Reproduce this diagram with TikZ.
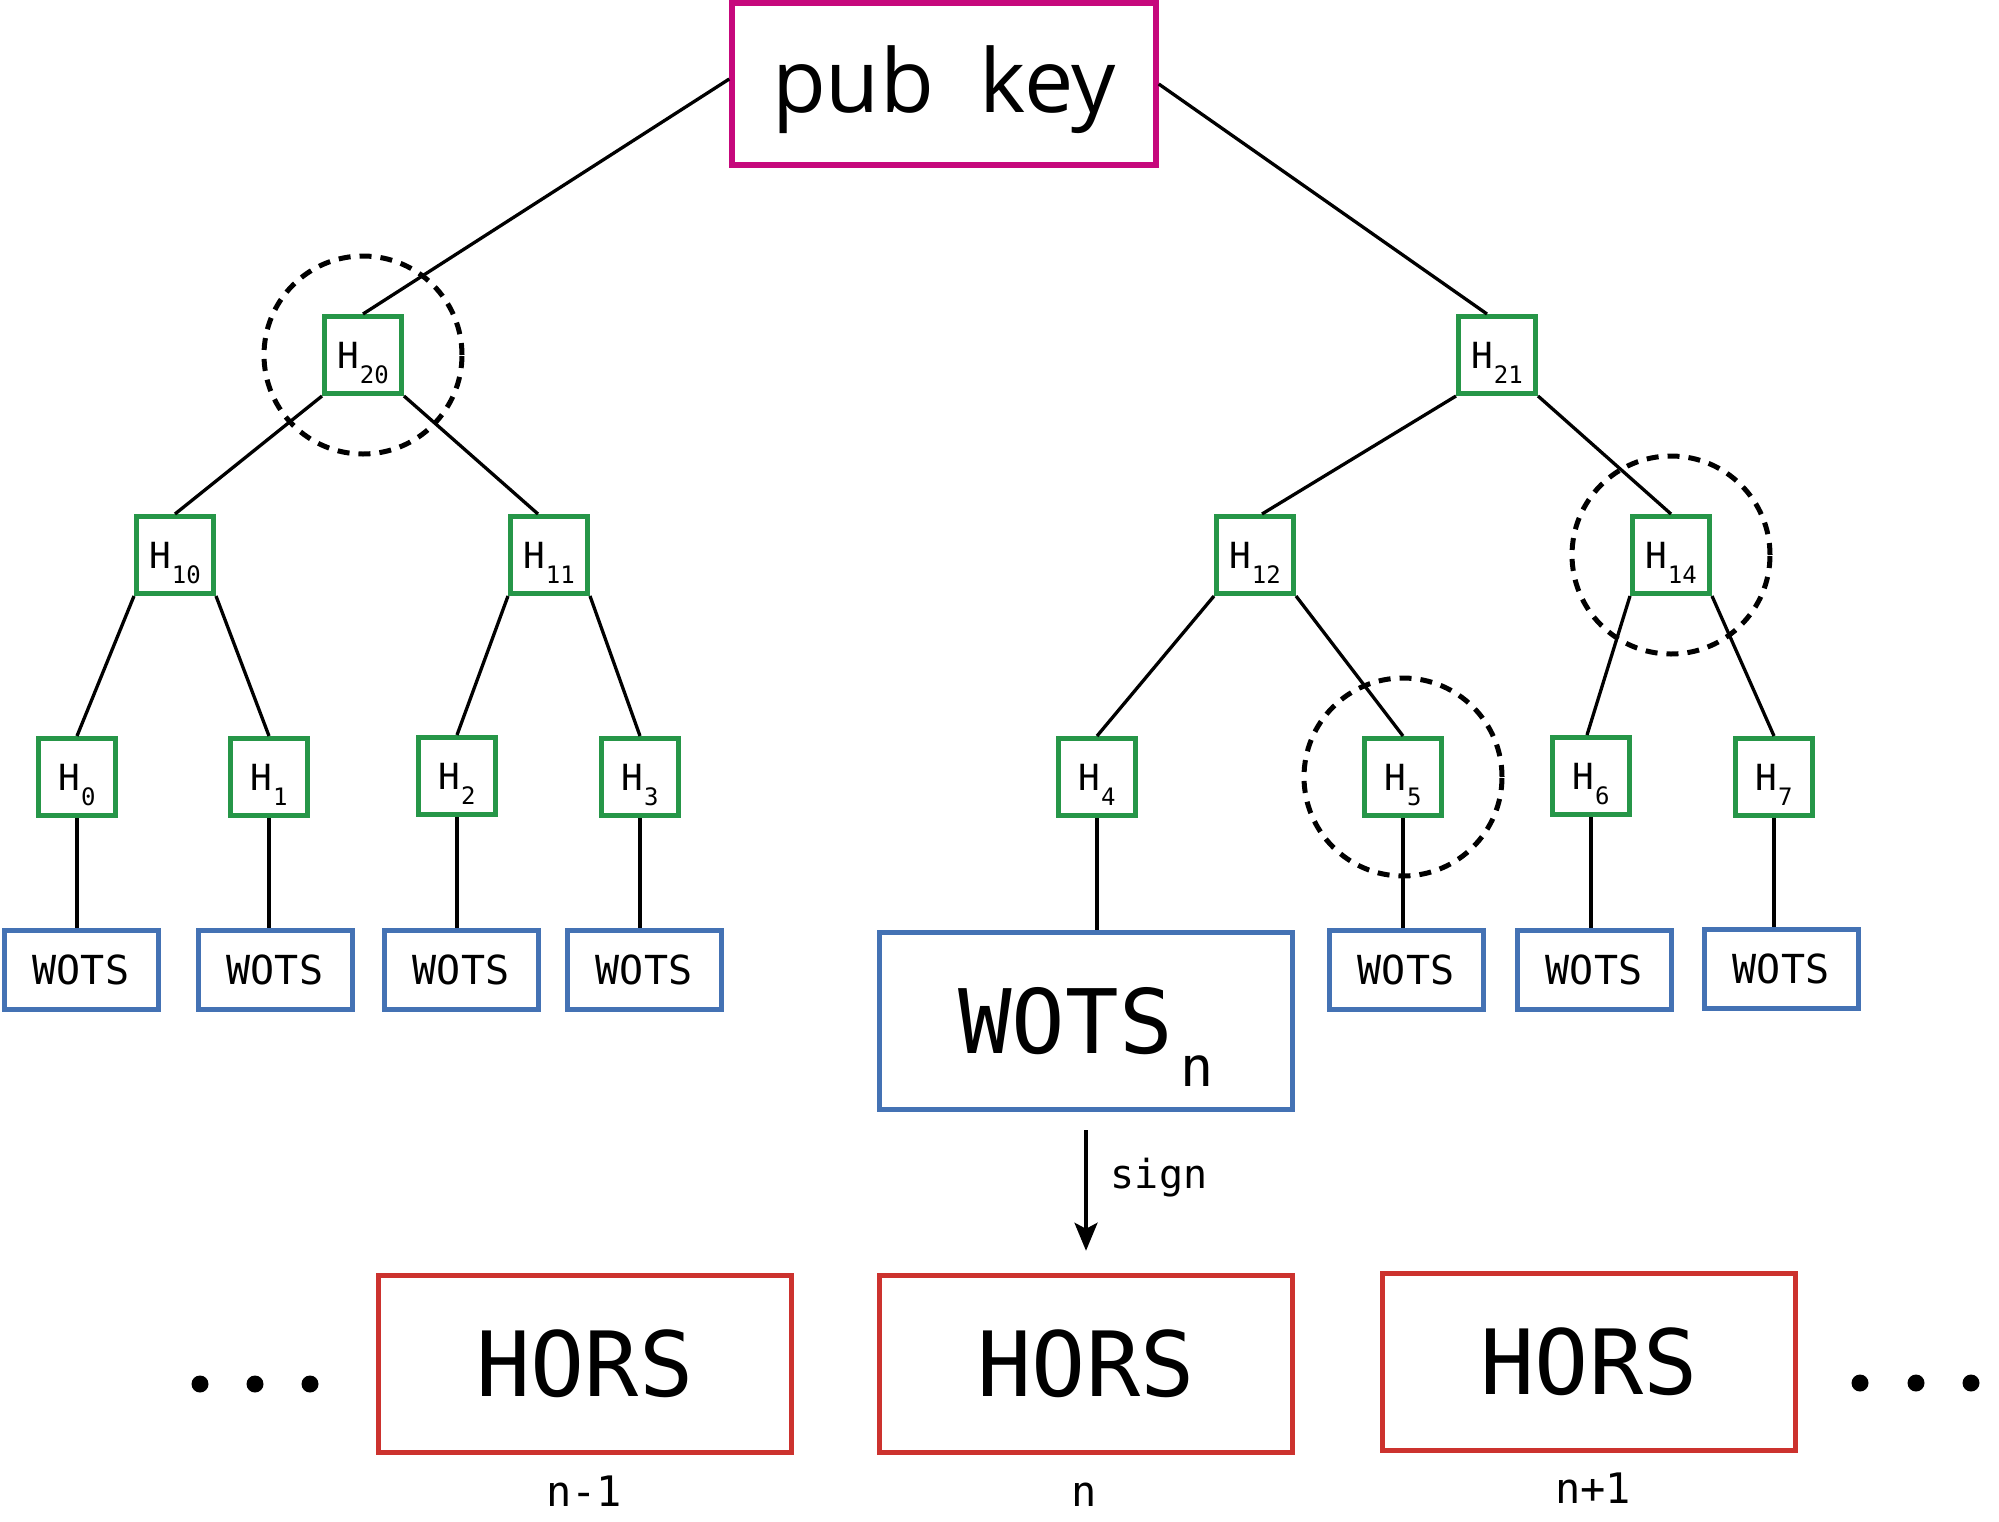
\documentclass[tikz,border=0pt]{standalone}
\usepackage{fontspec}
\setmainfont{Open Sans}
\newfontfamily\monofnt{DejaVu Sans Mono}
\usetikzlibrary{arrows.meta}
\definecolor{hgreen}{RGB}{38,150,72}
\definecolor{wblue}{RGB}{68,114,180}
\definecolor{hred}{RGB}{204,50,46}
\definecolor{pkpink}{RGB}{198,8,124}
\newcommand{\Hsub}[1]{H\kern1pt\smash{\raisebox{-15pt}{\fontsize{24}{24}\selectfont #1}}}
\begin{document}
\begin{tikzpicture}[x=1pt,y=-1pt,
  hnode/.style={draw=hgreen,line width=5pt,minimum size=77pt,inner sep=0pt,fill=white,font=\monofnt\fontsize{36}{40}\selectfont},
  wsmall/.style={draw=wblue,line width=5pt,minimum width=154pt,minimum height=79pt,inner sep=0pt,font=\monofnt\fontsize{40}{44}\selectfont},
  wbig/.style={draw=wblue,line width=5pt,minimum width=413pt,minimum height=177pt,inner sep=0pt,font=\monofnt\fontsize{89}{96}\selectfont},
  horsbox/.style={draw=hred,line width=5.5pt,minimum width=413pt,minimum height=177pt,inner sep=0pt,font=\monofnt\fontsize{90}{96}\selectfont},
  lbl/.style={font=\monofnt\fontsize{42}{46}\selectfont,anchor=base,inner sep=0pt},
  tline/.style={line width=3.3pt},
  dashring/.style={draw,line width=5pt,dash pattern=on 12pt off 9pt,circle,minimum size=198pt,inner sep=0pt},
  dotmark/.style={fill,circle,minimum size=17pt,inner sep=0pt}
]
\useasboundingbox (0,0) rectangle (1999,1521);

% root
\node[draw=pkpink,line width=5.5pt,minimum width=424pt,minimum height=162pt,inner sep=0pt,
      font=\fontsize{88}{96}\selectfont,text height=66pt,text depth=10pt] (pk) at (944,84) {pub\ \ key};

% hash nodes
\node[hnode] (h20) at (363,355) {\Hsub{20}};
\node[hnode] (h21) at (1497,355) {\Hsub{21}};
\node[hnode] (h10) at (175,555) {\Hsub{10}};
\node[hnode] (h11) at (549,555) {\Hsub{11}};
\node[hnode] (h12) at (1255,555) {\Hsub{12}};
\node[hnode] (h14) at (1671,555) {\Hsub{14}};
\node[hnode] (h0) at (77,777) {\Hsub{0}};
\node[hnode] (h1) at (269,777) {\Hsub{1}};
\node[hnode] (h2) at (457,776) {\Hsub{2}};
\node[hnode] (h3) at (640,777) {\Hsub{3}};
\node[hnode] (h4) at (1097,777) {\Hsub{4}};
\node[hnode] (h5) at (1403,777) {\Hsub{5}};
\node[hnode] (h6) at (1591,776) {\Hsub{6}};
\node[hnode] (h7) at (1774,777) {\Hsub{7}};

% WOTS
\node[wsmall] (w0) at (81,970) {WOTS};
\node[wsmall] (w1) at (275,970) {WOTS};
\node[wsmall] (w2) at (461,970) {WOTS};
\node[wsmall] (w3) at (644,970) {WOTS};
\node[wbig] (wn) at (1086,1021) {WOTS\kern8pt\smash{\raisebox{-33pt}{\fontsize{55}{60}\selectfont n}}};
\node[wsmall] (w5) at (1406,970) {WOTS};
\node[wsmall] (w6) at (1594,970) {WOTS};
\node[wsmall] (w7) at (1781,969) {WOTS};

% HORS
\node[horsbox] (hp) at (585,1364) {HORS};
\node[horsbox] (hn) at (1086,1364) {HORS};
\node[horsbox] (hq) at (1589,1362) {HORS};
\node[lbl] (lp) at (584,1506) {n-1};
\node[lbl] (ln) at (1084,1506) {n};
\node[lbl] (lq) at (1593,1503) {n+1};

% dots
\node[dotmark] (d1) at (200,1384) {};
\node[dotmark] (d2) at (255,1384) {};
\node[dotmark] (d3) at (310,1384) {};
\node[dotmark] (d4) at (1860,1383) {};
\node[dotmark] (d5) at (1916,1383) {};
\node[dotmark] (d6) at (1971,1383) {};

% tree edges
\draw[tline] ([yshift=5pt]pk.west) -- (h20.north);
\draw[tline] (pk.east) -- ([xshift=-10pt]h21.north);
\draw[tline] (h20.south west) -- (h10.north);
\draw[tline] (h20.south east) -- ([xshift=-11pt]h11.north);
\draw[tline] (h21.south west) -- ([xshift=7pt]h12.north);
\draw[tline] (h21.south east) -- (h14.north);
\draw[tline] (h10.south west) -- (h0.north);
\draw[tline] (h10.south east) -- (h1.north);
\draw[tline] (h11.south west) -- (h2.north);
\draw[tline] (h11.south east) -- (h3.north);
\draw[tline] (h12.south west) -- (h4.north);
\draw[tline] (h12.south east) -- (h5.north);
\draw[tline] (h14.south west) -- ([xshift=-4pt]h6.north);
\draw[tline] (h14.south east) -- (h7.north);
\foreach \a/\b in {h0/w0,h1/w1,h2/w2,h3/w3,h4/wn,h5/w5,h6/w6,h7/w7}
  \draw[tline] (\a.south) -- (\a.south |- \b.north);

% sign arrow
\draw[tline,-{Stealth[length=28pt,width=23pt,inset=6pt]}] ([yshift=-18pt]wn.south) -- ([yshift=22pt]hn.north);
\node[font=\monofnt\fontsize{40}{44}\selectfont,anchor=base,inner sep=0pt] (sg) at (1159,1188) {sign};

% dashed rings
\node[dashring] (r1) at (h20) {};
\node[dashring] (r2) at (h14) {};
\node[dashring] (r3) at (h5) {};
\end{tikzpicture}
\end{document}
